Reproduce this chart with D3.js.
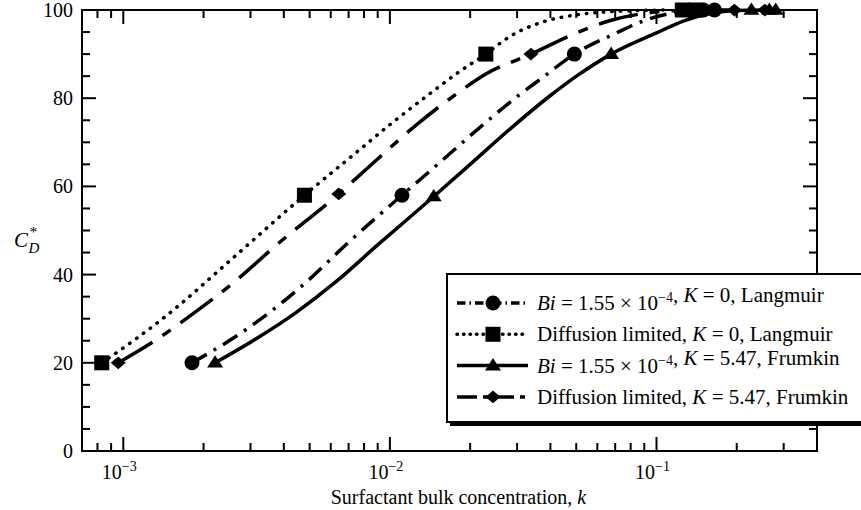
<!DOCTYPE html>
<html>
<head>
<meta charset="utf-8">
<script src="https://cdn.jsdelivr.net/npm/d3@7"></script>
<style>
  body { margin: 0; background: #fff; }
  svg text { font-family: "Liberation Serif", "Times New Roman", serif; fill: #000; }
</style>
</head>
<body>
<div id="chart"></div>
<script>
// curve values: k (bulk concentration) and C*_D
var lang_bi_k   = [0.00181, 0.00257, 0.00355, 0.00490, 0.00676, 0.0111, 0.0151, 0.0214, 0.0302, 0.0380, 0.0492, 0.0708, 0.0891, 0.112, 0.141, 0.200],
    lang_bi_c   = [20, 25.5, 31.5, 38.5, 46.5, 58, 65, 73, 80.5, 85, 90, 94.8, 97.5, 99.2, 99.9, 100],
    lang_dif_k  = [0.00083, 0.00112, 0.00158, 0.00224, 0.00316, 0.00478, 0.00708, 0.0100, 0.0141, 0.0182, 0.0229, 0.0282, 0.0380, 0.0501, 0.0708, 0.112],
    lang_dif_c  = [20, 25.5, 32.5, 40.5, 48.5, 58, 66.5, 74, 81, 86, 90, 94, 97.4, 98.9, 99.7, 100],
    frum_bi_k   = [0.00221, 0.00316, 0.00447, 0.00631, 0.00891, 0.0146, 0.0200, 0.0282, 0.0398, 0.0501, 0.0676, 0.100, 0.126, 0.158, 0.200, 0.282],
    frum_bi_c   = [20, 25.5, 31.5, 38.5, 46.5, 57.7, 65, 73, 80.5, 85, 90, 94.8, 97.5, 99.2, 99.9, 100],
    frum_dif_k  = [0.000957, 0.00135, 0.00186, 0.00263, 0.00372, 0.00643, 0.00891, 0.0126, 0.0178, 0.0229, 0.0338, 0.0501, 0.0661, 0.0891, 0.126, 0.178],
    frum_dif_c  = [20, 25.5, 31.5, 38.5, 46.5, 58.3, 66, 74, 81, 85.5, 90, 94.8, 97.5, 99.2, 99.9, 100];

// marker positions
var lang_bi_mk   = [0.00181, 0.0111, 0.0492, 0.150, 0.165],
    lang_bi_mc   = [20, 58, 90, 100, 100],
    lang_dif_mk  = [0.00083, 0.00478, 0.0229, 0.125, 0.140],
    lang_dif_mc  = [20, 58, 90, 100, 100],
    frum_bi_mk   = [0.00221, 0.0146, 0.0676, 0.227, 0.265, 0.280],
    frum_bi_mc   = [20, 57.7, 90, 100, 100, 100],
    frum_dif_mk  = [0.000957, 0.00643, 0.0338, 0.196, 0.255],
    frum_dif_mc  = [20, 58.3, 90, 100, 100];

var y_ticks = [0, 20, 40, 60, 80, 100],
    x_ticks = [1e-3, 1e-2, 1e-1],
    x_exps = ["\u22123", "\u22122", "\u22121"];

var W = 861, H = 510,
    M = {left: 82, right: 817, top: 10, bottom: 451},
    LW = 3.5,
    FONT = "'Liberation Serif', 'Times New Roman', serif";

var svg = d3.select("#chart").append("svg")
  .attr("width", W)
  .attr("height", H)
  .attr("font-family", FONT);

var x = d3.scaleLog().domain([7e-4, 0.4]).range([M.left, M.right]),
    y = d3.scaleLinear().domain([0, 100]).range([M.bottom, M.top]);

// custom marker shapes, size = half width
var sym_square = {draw: function(c, r) { c.rect(-r, -r, 2 * r, 2 * r); }},
    sym_circle = {draw: function(c, r) { c.moveTo(r, 0); c.arc(0, 0, r, 0, 2 * Math.PI); }},
    sym_tri = {draw: function(c, r) { c.moveTo(0, -r * 0.95); c.lineTo(r, r * 0.6); c.lineTo(-r, r * 0.6); c.closePath(); }},
    sym_diamond = {draw: function(c, r) { c.moveTo(0, -r * 0.85); c.lineTo(r, 0); c.lineTo(0, r * 0.85); c.lineTo(-r, 0); c.closePath(); }};

var series = [
  {k: lang_bi_k, c: lang_bi_c, mk: lang_bi_mk, mc: lang_bi_mc, dash: "17,8,3,8", cap: "butt", sym: sym_circle, r: 7.5,
   label: [["Bi", true], [" = 1.55 \u00d7 10", false], ["\u22124", false, "sup"], [", ", false], ["K", true], [" = 0, Langmuir", false]]},
  {k: lang_dif_k, c: lang_dif_c, mk: lang_dif_mk, mc: lang_dif_mc, dash: "0.5,8", cap: "round", sym: sym_square, r: 7.5,
   label: [["Diffusion limited, ", false], ["K", true], [" = 0, Langmuir", false]]},
  {k: frum_bi_k, c: frum_bi_c, mk: frum_bi_mk, mc: frum_bi_mc, dash: null, cap: "butt", sym: sym_tri, r: 8,
   label: [["Bi", true], [" = 1.55 \u00d7 10", false], ["\u22124", false, "sup"], [", ", false], ["K", true], [" = 5.47, Frumkin", false]]},
  {k: frum_dif_k, c: frum_dif_c, mk: frum_dif_mk, mc: frum_dif_mc, dash: "40,12,10,12", cap: "butt", sym: sym_diamond, r: 7.5,
   label: [["Diffusion limited, ", false], ["K", true], [" = 5.47, Frumkin", false]]}
];

var line = d3.line()
  .x(function(d) { return x(d[0]); })
  .y(function(d) { return y(d[1]); })
  .curve(d3.curveMonotoneX);

var plot = svg.append("g");

series.forEach(function(s) {
  var pts = s.k.map(function(k, i) { return [k, s.c[i]]; });
  plot.append("path")
    .datum(pts)
    .attr("d", line)
    .attr("fill", "none")
    .attr("stroke", "#000")
    .attr("stroke-width", LW)
    .attr("stroke-linecap", s.cap)
    .attr("stroke-dasharray", s.dash);
});

series.forEach(function(s) {
  plot.selectAll(null)
    .data(s.mk.map(function(k, i) { return [k, s.mc[i]]; }))
    .enter().append("path")
    .attr("transform", function(d) { return "translate(" + x(d[0]) + "," + y(d[1]) + ")"; })
    .attr("d", d3.symbol().type(s.sym).size(s.r))
    .attr("fill", "#000");
});

// frame and ticks (inward on all sides)
var minor_x = [],
    minor_y = d3.range(0, 101, 5);
[1e-4, 1e-3, 1e-2, 1e-1].forEach(function(b) {
  for (var m = 1; m < 10; m += 1) {
    var v = b * m;
    if (v > 7e-4 && v < 0.4) minor_x.push(v);
  }
});

function tick_len_x(v) {
  return x_ticks.some(function(t) { return Math.abs(t - v) / t < 1e-6; }) ? 13 : 7;
}

var axis = svg.append("g")
  .attr("stroke", "#000")
  .attr("stroke-width", 2)
  .attr("stroke-linecap", "square");

axis.selectAll(".xb").data(minor_x).enter().append("line")
  .attr("x1", function(d) { return x(d); }).attr("x2", function(d) { return x(d); })
  .attr("y1", M.bottom).attr("y2", function(d) { return M.bottom - tick_len_x(d); });
axis.selectAll(".xt").data(minor_x).enter().append("line")
  .attr("x1", function(d) { return x(d); }).attr("x2", function(d) { return x(d); })
  .attr("y1", M.top).attr("y2", function(d) { return M.top + tick_len_x(d); });
axis.selectAll(".yl").data(minor_y).enter().append("line")
  .attr("x1", M.left).attr("x2", function(d) { return M.left + (d % 20 === 0 ? 13 : 7); })
  .attr("y1", function(d) { return y(d); }).attr("y2", function(d) { return y(d); });
axis.selectAll(".yr").data(minor_y).enter().append("line")
  .attr("x1", M.right).attr("x2", function(d) { return M.right - (d % 20 === 0 ? 13 : 7); })
  .attr("y1", function(d) { return y(d); }).attr("y2", function(d) { return y(d); });

axis.append("rect")
  .attr("x", M.left).attr("y", M.top)
  .attr("width", M.right - M.left).attr("height", M.bottom - M.top)
  .attr("fill", "none");

// tick labels
svg.selectAll(".ylab").data(y_ticks).enter().append("text")
  .attr("x", M.left - 9)
  .attr("y", function(d) { return y(d) + 7; })
  .attr("text-anchor", "end")
  .attr("font-family", FONT)
  .style("font-size", "20px")
  .text(function(d) { return d; });

var xl = svg.selectAll(".xlab").data(x_ticks).enter().append("text")
  .attr("x", function(d) { return x(d) - 4; })
  .attr("y", M.bottom + 28)
  .attr("text-anchor", "middle")
  .attr("font-family", FONT)
  .style("font-size", "20px");
xl.append("tspan").text("10");
xl.append("tspan")
  .attr("dy", -8)
  .style("font-size", "14px")
  .text(function(d, i) { return x_exps[i]; });

svg.append("text")
  .attr("x", (M.left + M.right) / 2 + 9)
  .attr("y", 504)
  .attr("text-anchor", "middle")
  .attr("font-family", FONT)
  .style("font-size", "20px")
  .call(function(t) {
    t.append("tspan").text("Surfactant bulk concentration, ");
    t.append("tspan").style("font-style", "italic").text("k");
  });

var yt = svg.append("text")
  .attr("x", 14)
  .attr("y", 247)
  .attr("font-family", FONT)
  .style("font-size", "21px")
  .style("font-style", "italic");
yt.append("tspan").text("C");
yt.append("tspan").attr("dy", -10).attr("dx", 1).style("font-size", "15px").text("*");
yt.append("tspan").attr("dy", 16).attr("dx", -8).style("font-size", "15px").text("D");

// legend
var lg = svg.append("g").attr("transform", "translate(447,274)");
lg.append("rect")
  .attr("x", 3).attr("y", 4).attr("width", 440).attr("height", 148)
  .attr("fill", "#000");
lg.append("rect")
  .attr("x", 0).attr("y", 0).attr("width", 440).attr("height", 148)
  .attr("fill", "#fff").attr("stroke", "#000").attr("stroke-width", 2);

series.forEach(function(s, i) {
  var ry = 29 + i * 31.3,
      row = lg.append("g").attr("transform", "translate(0," + ry + ")");
  row.append("line")
    .attr("x1", 10).attr("x2", 81).attr("y1", 0).attr("y2", 0)
    .attr("stroke", "#000").attr("stroke-width", LW)
    .attr("stroke-linecap", s.cap)
    .attr("stroke-dasharray", s.dash ? (s.cap === "round" ? "0.5,6" : s.dash.split(",").map(function(v) { return v * 0.5; }).join(",")) : null);
  row.append("path")
    .attr("transform", "translate(46,0)")
    .attr("d", d3.symbol().type(s.sym).size(s.r))
    .attr("fill", "#000");
  var t = row.append("text")
    .attr("x", 90).attr("y", 7)
    .attr("font-family", FONT)
    .style("font-size", "21px");
  s.label.forEach(function(p) {
    var ts = t.append("tspan").text(p[0]);
    if (p[1]) ts.style("font-style", "italic");
    if (p[2] === "sup") {
      ts.attr("dy", -8).style("font-size", "14px");
      t.append("tspan").attr("dy", 8).text("");
    }
  });
});
</script>
</body>
</html>
